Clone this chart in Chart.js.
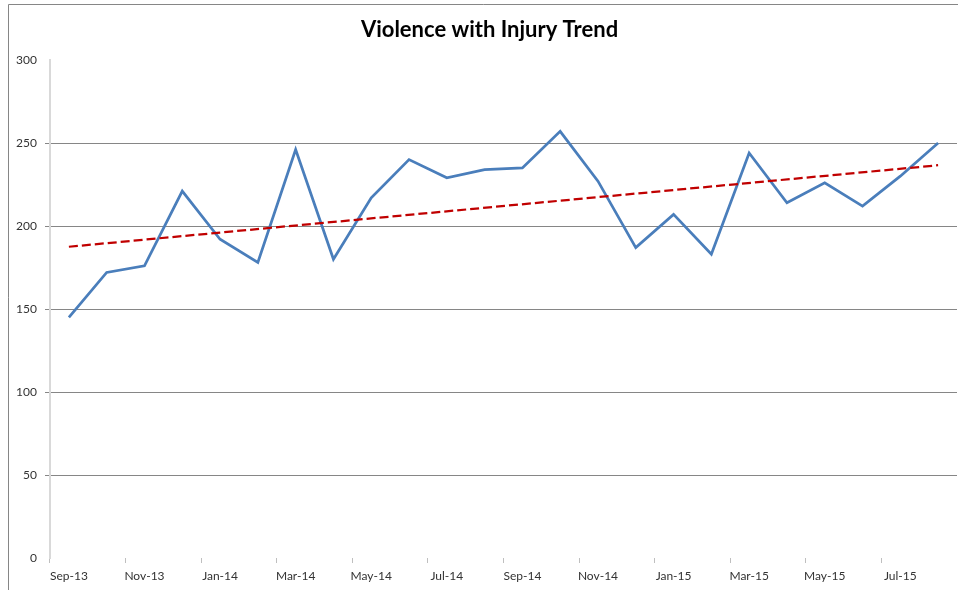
<!DOCTYPE html>
<html>
<head>
<meta charset="utf-8">
<script src="https://cdn.jsdelivr.net/npm/chart.js@4/dist/chart.umd.min.js"></script>
<style>
  html, body { margin: 0; padding: 0; background: #fff; }
  #wrap { position: relative; width: 958px; height: 590px; }
</style>
</head>
<body>
<div id="wrap"><canvas id="c" width="958" height="590"></canvas></div>
<script>
const months = ["Sep-13","Oct-13","Nov-13","Dec-13","Jan-14","Feb-14","Mar-14","Apr-14","May-14","Jun-14","Jul-14","Aug-14",
                "Sep-14","Oct-14","Nov-14","Dec-14","Jan-15","Feb-15","Mar-15","Apr-15","May-15","Jun-15","Jul-15","Aug-15"];
const incidents = [145,172,176,221,192,178,246,180,217,240,229,234,
                   235,257,227,187,207,183,244,214,226,212,230,250];
// linear trend line end points
const trendStart = 187.5;
const trendEnd = 236.6;
const trend = months.map((m, i) => i === 0 ? trendStart : (i === months.length - 1 ? trendEnd : null));
const yTicks = [0, 50, 100, 150, 200, 250, 300];

const FONT = "Lato, 'Open Sans', 'Liberation Sans', sans-serif";

const frame = {
  id: 'frame',
  afterLayout(chart) {
    const t = chart.titleBlock;
    if (t) { t.left = 22; t.right = 957; t.width = 935; }
  },
  afterDraw(chart) {
    const ctx = chart.ctx;
    ctx.save();
    ctx.strokeStyle = '#868686';
    ctx.lineWidth = 1;
    ctx.beginPath();
    ctx.moveTo(8.5, 590);
    ctx.lineTo(8.5, 4.5);
    ctx.lineTo(958, 4.5);
    ctx.stroke();
    ctx.restore();
  }
};

new Chart(document.getElementById('c'), {
  type: 'line',
  data: {
    labels: months,
    datasets: [
      {
        label: 'Violence with Injury',
        data: incidents,
        borderColor: '#4A7EBB',
        borderWidth: 2.75,
        pointRadius: 0,
        tension: 0,
        fill: false,
        order: 2
      },
      {
        label: 'Linear trend',
        data: trend,
        borderColor: '#C00000',
        borderWidth: 2.25,
        borderDash: [9, 4],
        pointRadius: 0,
        spanGaps: true,
        tension: 0,
        fill: false,
        order: 1
      }
    ]
  },
  options: {
    responsive: false,
    animation: false,
    layout: { padding: { left: 0, right: 1, top: 0, bottom: 0 } },
    plugins: {
      legend: { display: false },
      tooltip: { enabled: false },
      title: {
        display: true,
        text: 'Violence with Injury Trend',
        color: '#000',
        font: { family: FONT, size: 22, weight: 'bold' },
        padding: { top: 17, bottom: 16.6 }
      }
    },
    scales: {
      x: {
        offset: true,
        afterFit(scale) { scale.height = 32; },
        border: { display: false },
        grid: {
          offset: true,
          drawOnChartArea: false,
          drawTicks: true,
          tickLength: 5,
          color: 'rgba(0,0,0,0)',
          tickColor: ctx => (ctx.index % 2 === 0 ? '#bfbfbf' : 'rgba(0,0,0,0)'),
          lineWidth: 1
        },
        ticks: {
          autoSkip: false,
          maxRotation: 0,
          minRotation: 0,
          padding: 6,
          color: '#333',
          font: { family: FONT, size: 12 },
          callback: (v, i) => (i % 2 === 0 ? months[i] : '')
        }
      },
      y: {
        min: 0,
        max: 300,
        afterFit(scale) { scale.width = 50; },
        afterBuildTicks(scale) { scale.ticks = yTicks.map(v => ({ value: v })); },
        border: { display: true, color: '#d9d9d9', width: 2 },
        grid: {
          drawTicks: true,
          tickLength: 5,
          color: ctx => (ctx.tick && (ctx.tick.value === 0 || ctx.tick.value === 300) ? 'rgba(0,0,0,0)' : '#868686'),
          lineWidth: 1
        },
        ticks: {
          padding: 8,
          color: '#333',
          font: { family: FONT, size: 12 }
        }
      }
    }
  },
  plugins: [frame]
});
</script>
</body>
</html>
